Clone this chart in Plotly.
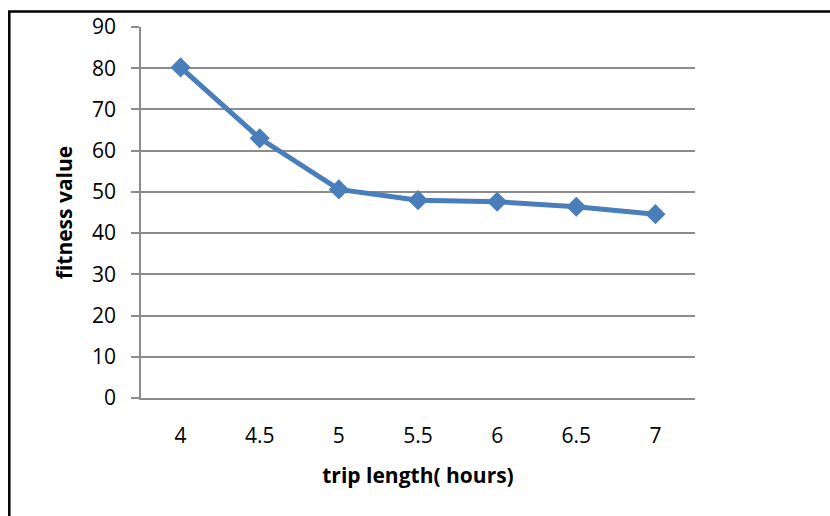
import plotly.graph_objects as go

# Fitness value by trip length
trip_hours = ["4", "4.5", "5", "5.5", "6", "6.5", "7"]
fitness = [80.2, 63.0, 50.6, 48.0, 47.6, 46.4, 44.6]
y_ticks = [0, 10, 20, 30, 40, 50, 60, 70, 80, 90]

W, H = 830, 516
ML, MR, MT, MB = 141, 135, 25, 118
pw, ph = W - ML - MR, H - MT - MB

grid = "#8c8c8c"
font = "'Open Sans', Lato, sans-serif"

fig = go.Figure(
    go.Scatter(
        x=trip_hours,
        y=fitness,
        mode="lines+markers",
        line=dict(color="#4a7ebb", width=5),
        marker=dict(symbol="diamond", size=15.5, color="#4a7ebb"),
        cliponaxis=False,
    )
)

fig.update_layout(
    width=W,
    height=H,
    margin=dict(l=ML, r=MR, t=MT, b=MB),
    paper_bgcolor="white",
    plot_bgcolor="white",
    showlegend=False,
    font=dict(family=font, color="black"),
)

fig.update_xaxes(
    type="category",
    range=[-0.5, 6.5],
    showgrid=False,
    showline=True,
    linecolor=grid,
    linewidth=1.5,
    ticks="",
    ticklabelstandoff=18,
    tickfont=dict(size=21),
    title=dict(text="<b>trip length( hours)</b>", font=dict(size=21), standoff=20),
)

fig.update_yaxes(
    range=[0, 90],
    tickvals=y_ticks,
    showgrid=True,
    gridcolor=grid,
    gridwidth=1.5,
    showline=True,
    linecolor=grid,
    linewidth=1.5,
    zeroline=False,
    ticks="outside",
    ticklen=8,
    tickcolor=grid,
    tickwidth=1.5,
    ticklabelstandoff=11,
    tickfont=dict(size=21),
    title=dict(text="<b>fitness value</b>", font=dict(size=21), standoff=14),
)

# Frame around the figure (open on the right and bottom edges)
x0 = (9.3 - ML) / pw
y0 = 1 + (MT - 9.3) / ph
fig.add_shape(
    type="rect",
    xref="paper", yref="paper",
    x0=x0, x1=2, y0=-2, y1=y0,
    line=dict(color="black", width=2.5),
    fillcolor="rgba(0,0,0,0)",
    layer="above",
)

fig.write_html("out.html")
